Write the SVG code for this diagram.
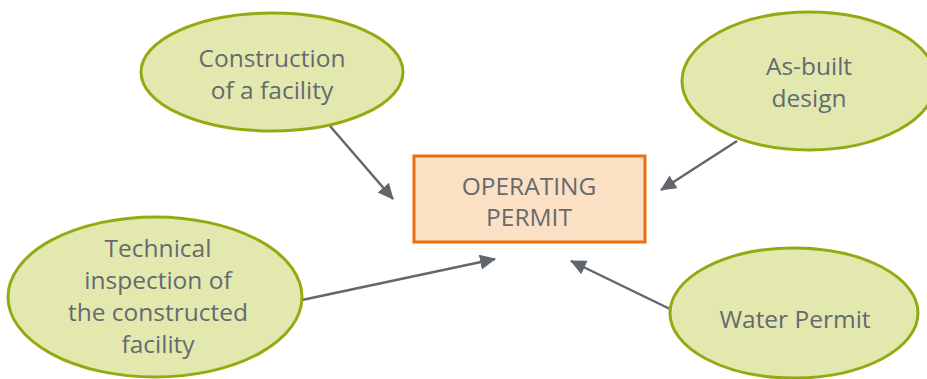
<svg xmlns="http://www.w3.org/2000/svg" width="927" height="379" viewBox="0 0 927 379">
  <style>
    .oval { fill: #E3E9AE; stroke: #95AA12; stroke-width: 3; }
    .box { fill: #FBE0C4; stroke: #EC6E12; stroke-width: 3; }
    .lbl { font-family: "Open Sans", "Liberation Sans", sans-serif; font-size: 24.5px; fill: #656A70; text-anchor: middle; }
    .conn { stroke: #62676E; stroke-width: 2.5; fill: none; marker-end: url(#arrow); }
  </style>
  <defs>
    <marker id="arrow" markerUnits="userSpaceOnUse" markerWidth="18" markerHeight="16" refX="15" refY="7.5" orient="auto">
      <path d="M0,0 L16,7.5 L0,15 z" fill="#62676E"/>
    </marker>
  </defs>
  <rect width="927" height="379" fill="#FFFFFF"/>
  <g id="connectors">
    <line class="conn" x1="330" y1="126" x2="393" y2="199"/>
    <line class="conn" x1="737" y1="141" x2="661" y2="190"/>
    <line class="conn" x1="302" y1="300" x2="495" y2="259"/>
    <line class="conn" x1="670" y1="309" x2="571" y2="261"/>
  </g>
  <g id="operating-permit">
    <rect class="box" x="414" y="156" width="231" height="86"/>
    <text class="lbl" x="529" y="195">OPERATING</text>
    <text class="lbl" x="529" y="226">PERMIT</text>
  </g>
  <g id="construction">
    <ellipse class="oval" cx="272" cy="72" rx="131" ry="59"/>
    <text class="lbl" x="272" y="67">Construction</text>
    <text class="lbl" x="272" y="99">of a facility</text>
  </g>
  <g id="as-built">
    <ellipse class="oval" cx="809" cy="81" rx="127" ry="69"/>
    <text class="lbl" x="809" y="75">As-built</text>
    <text class="lbl" x="809" y="107">design</text>
  </g>
  <g id="technical-inspection">
    <ellipse class="oval" cx="155" cy="297" rx="147" ry="80"/>
    <text class="lbl" x="158" y="257">Technical</text>
    <text class="lbl" x="158" y="289">inspection of</text>
    <text class="lbl" x="158" y="321">the constructed</text>
    <text class="lbl" x="158" y="353">facility</text>
  </g>
  <g id="water-permit">
    <ellipse class="oval" cx="794" cy="313" rx="124" ry="65"/>
    <text class="lbl" x="795" y="328">Water Permit</text>
  </g>
</svg>
